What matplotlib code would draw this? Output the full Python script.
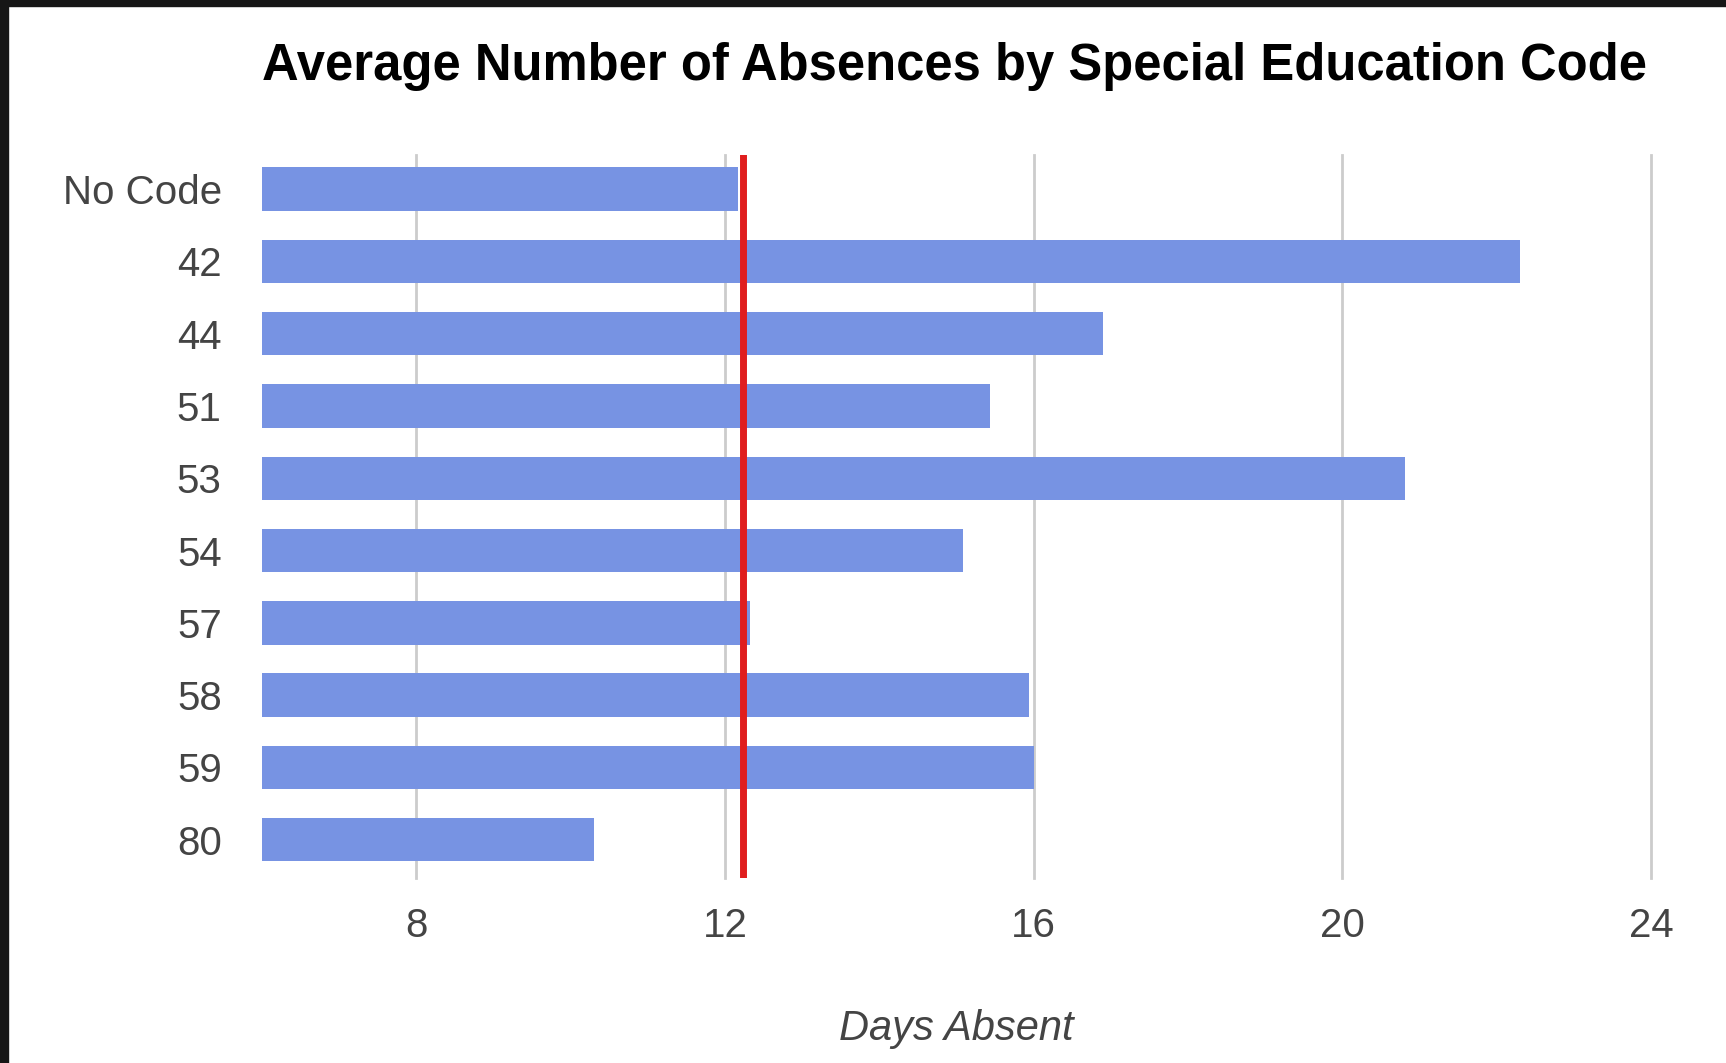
import matplotlib.pyplot as plt
from matplotlib.patches import Rectangle

codes = ["No Code", "42", "44", "51", "53", "54", "57", "58", "59", "80"]
days_absent = [12.17, 22.3, 16.9, 15.44, 20.81, 15.09, 12.33, 15.94, 16.0, 10.3]
overall_avg = 12.23
x_ticks = [8, 12, 16, 20, 24]

plt.rcParams['font.family'] = ['Liberation Sans', 'DejaVu Sans']

fig = plt.figure(figsize=(17.26, 10.63), dpi=100)
fig.patch.set_facecolor("white")

# dark frame along top and left edge
fig.patches.append(Rectangle((0, 0), 8 / 1726, 1, transform=fig.transFigure,
                             color="#161616", zorder=10))
fig.patches.append(Rectangle((0, 1 - 6 / 1063), 1, 6 / 1063, transform=fig.transFigure,
                             color="#161616", zorder=10))

ax = fig.add_axes([0.1518, 0.174, 0.8047, 0.680])
ax.barh(range(len(codes)), days_absent, left=0, height=0.6, color="#7793e3", zorder=2)
ax.axvline(overall_avg, ymin=0.0, ymax=1.0, color="#e01e1e", lw=5, zorder=3)

ax.set_xlim(6, 24)
ax.set_ylim(len(codes) - 0.47, -0.47)
ax.set_xticks(x_ticks)
ax.set_xticklabels([str(t) for t in x_ticks])
ax.set_yticks(range(len(codes)))
ax.set_yticklabels(codes)
ax.grid(axis="x", color="#cccccc", lw=2, zorder=1)
for gl in ax.get_xgridlines():
    gl.set_clip_on(False)
ax.tick_params(length=0, labelsize=29, labelcolor="#444444")
ax.tick_params(axis="y", pad=29)
ax.tick_params(axis="x", pad=21)
for s in ax.spines.values():
    s.set_visible(False)

ax.set_xlabel("Days Absent", fontsize=30, style="italic", color="#444444", labelpad=46)
fig.text(262 / 1726, 0.937, "Average Number of Absences by Special Education Code",
         ha="left", va="center", fontsize=36.5, fontweight="bold", color="black")

fig.savefig("out.png", dpi=100)
